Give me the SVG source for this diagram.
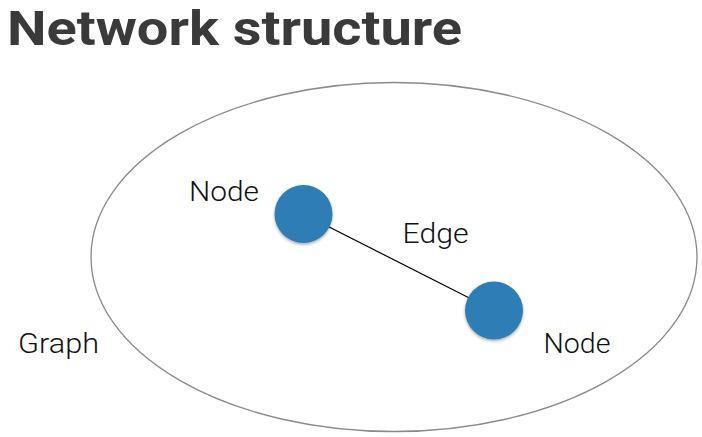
<svg xmlns="http://www.w3.org/2000/svg" width="702" height="437" viewBox="0 0 702 437">
<defs>
<style>
.title{font-family:Roboto,"Liberation Sans",sans-serif;font-weight:bold;font-size:47.5px;fill:#3a3a3a}
.lbl{font-family:Roboto,"Liberation Sans",sans-serif;font-weight:300;font-size:28px;fill:#111}
.node{fill:#2f7db4;filter:url(#sh)}
</style>
<filter id="sh" x="-30%" y="-30%" width="160%" height="160%">
<feDropShadow dx="0" dy="1.5" stdDeviation="1.5" flood-color="#000" flood-opacity="0.35"/>
</filter>
</defs>
<rect width="702" height="437" fill="#fff"/>
<text class="title" x="7" y="44.5" textLength="455" lengthAdjust="spacingAndGlyphs">Network structure</text>
<g id="graph">
<ellipse cx="394" cy="257" rx="303" ry="174.5" fill="none" stroke="#8a8a8a" stroke-width="1.3"/>
<text class="lbl" x="18" y="353" textLength="81" lengthAdjust="spacingAndGlyphs">Graph</text>
</g>
<g id="connectors">
<line x1="303.5" y1="214" x2="494" y2="310.5" stroke="#000" stroke-width="1.2"/>
<text class="lbl" x="402.5" y="242.5" textLength="66" lengthAdjust="spacingAndGlyphs">Edge</text>
</g>
<g id="node1">
<circle class="node" cx="303.5" cy="214" r="29"/>
<text class="lbl" x="189" y="200.5" textLength="70" lengthAdjust="spacingAndGlyphs">Node</text>
</g>
<g id="node2">
<circle class="node" cx="494" cy="310.5" r="29"/>
<text class="lbl" x="543.5" y="352.7" textLength="67" lengthAdjust="spacingAndGlyphs">Node</text>
</g>
</svg>
